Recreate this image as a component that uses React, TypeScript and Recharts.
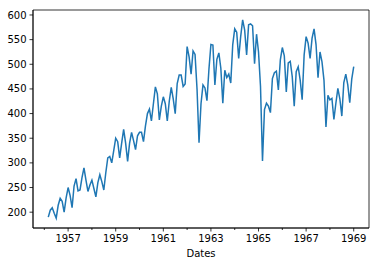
import { LineChart, Line, XAxis, YAxis, ReferenceArea } from "recharts";

// quarterly-looking series, one point per month starting March 1956
const values: number[] = [
  190, 204, 209, 198, 188, 214, 228, 222, 200, 229, 250, 234,
  209, 253, 268, 243, 245, 270, 290, 265, 242, 255, 265, 248,
  231, 260, 276, 262, 245, 280, 310, 313, 300, 325, 350, 343,
  310, 340, 368, 340, 303, 340, 362, 345, 327, 355, 362, 362,
  343, 375, 400, 409, 385, 420, 454, 440, 387, 415, 434, 420,
  385, 425, 453, 430, 400, 461, 478, 478, 455, 460, 536, 515,
  480, 527, 520, 450, 341, 420, 458, 452, 426, 490, 540, 539,
  458, 510, 523, 492, 421, 488, 473, 480, 462, 540, 572, 565,
  512, 556, 590, 570, 519, 580, 582, 578, 501, 561, 525, 455,
  304, 408, 421, 415, 402, 471, 483, 486, 448, 509, 534, 517,
  444, 503, 506, 475, 415, 485, 495, 468, 428, 519, 556, 543,
  512, 553, 572, 540, 473, 525, 505, 468, 373, 437, 428, 431,
  388, 421, 451, 430, 395, 463, 480, 458, 422, 470, 495,
];

const firstYear = 1956;
const firstMonth = 2; // March
const yearTicks = [1956, 1957, 1958, 1959, 1960, 1961, 1962, 1963, 1964, 1965, 1966, 1967, 1968, 1969];
const valueTicks = [200, 250, 300, 350, 400, 450, 500, 550, 600];

const data = values.map((v, i) => ({
  date: firstYear + (firstMonth + i) / 12,
  value: v,
}));

// matplotlib style 5% margins
const pad = (lo: number, hi: number): [number, number] => {
  const m = (hi - lo) * 0.05;
  return [lo - m, hi + m];
};
const xDomain = pad(data[0].date, data[data.length - 1].date);
const yDomain = pad(Math.min(...values), Math.max(...values));

const axisStyle = { stroke: "#000", strokeWidth: 0.8 };

// odd years get a label, even years only a short minor tick
const YearTick = (props: any) => {
  const { x, y, payload } = props;
  const major = payload.value % 2 === 1;
  return (
    <g>
      <line x1={x} x2={x} y1={y} y2={y + (major ? 3.5 : 2)} stroke="#000" strokeWidth={0.8} />
      {major && (
        <text x={x} y={y + 7} dy="0.71em" textAnchor="middle" fontSize={10} fill="#000">
          {payload.value}
        </text>
      )}
    </g>
  );
};

const App = () => {
  return (
    <div style={{ position: "absolute", left: 0, top: 0, fontFamily: "DejaVu Sans", background: "#fff" }}>
      <LineChart width={378} height={266} data={data} margin={{ top: 10, right: 9, left: 0, bottom: 0 }}>
        <XAxis
          dataKey="date"
          type="number"
          domain={xDomain}
          ticks={yearTicks}
          allowDataOverflow
          height={38}
          tickLine={false}
          tickSize={0}
          tickMargin={0}
          axisLine={axisStyle}
          tick={<YearTick />}
          interval={0}
          label={{ value: "Dates", position: "insideBottom", offset: 9, fontSize: 10, fill: "#000" }}
        />
        <YAxis
          type="number"
          domain={yDomain}
          ticks={valueTicks}
          allowDataOverflow
          width={33}
          tickSize={3.5}
          tickMargin={3}
          tickLine={axisStyle}
          axisLine={axisStyle}
          tick={{ fontSize: 10, fill: "#000" }}
          interval={0}
        />
        {/* frame around the plot, like matplotlib spines */}
        <ReferenceArea
          x1={xDomain[0]}
          x2={xDomain[1]}
          y1={yDomain[0]}
          y2={yDomain[1]}
          fill="none"
          stroke="#000"
          strokeWidth={0.8}
          ifOverflow="visible"
        />
        <Line
          type="linear"
          dataKey="value"
          stroke="#1f77b4"
          strokeWidth={1.5}
          dot={false}
          isAnimationActive={false}
        />
      </LineChart>
    </div>
  );
};

export default App;
